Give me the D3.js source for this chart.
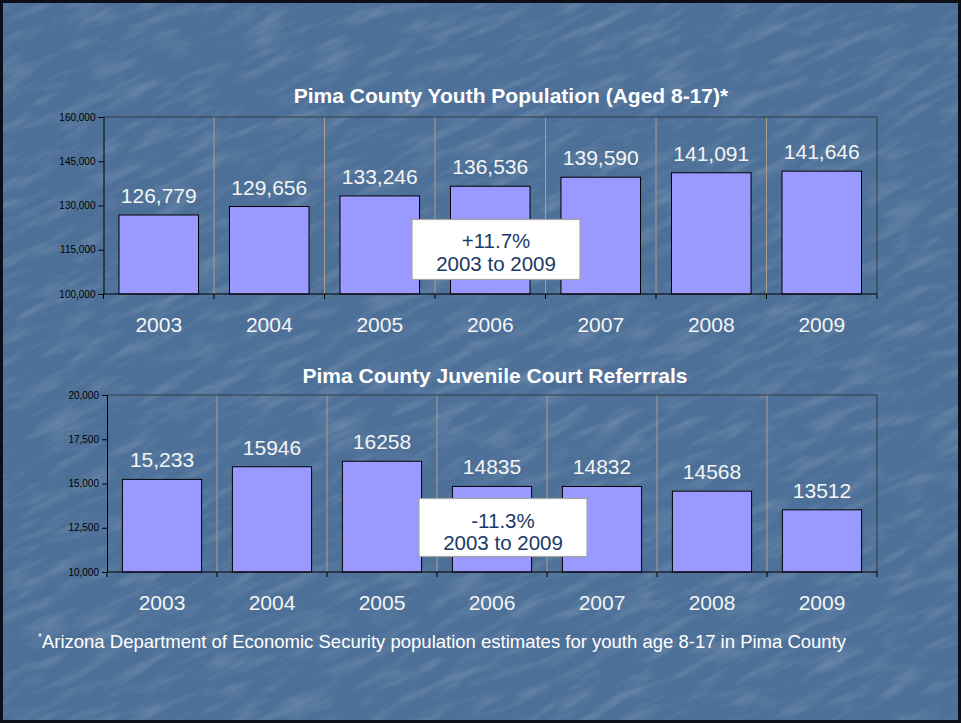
<!DOCTYPE html>
<html>
<head>
<meta charset="utf-8">
<script src="https://cdn.jsdelivr.net/npm/d3@7"></script>
<style>
  html, body { margin: 0; padding: 0; background: #000; }
  svg { display: block; font-family: Arial, "Liberation Sans", sans-serif; }
</style>
</head>
<body>
<svg id="slide" width="961" height="723"></svg>
<script>
// data
const years = ['2003', '2004', '2005', '2006', '2007', '2008', '2009'];

const youthPop    = [126779, 129656, 133246, 136536, 139590, 141091, 141646];
const youthLabels = ['126,779', '129,656', '133,246', '136,536', '139,590', '141,091', '141,646'];
const youthTicks  = [100000, 115000, 130000, 145000, 160000];

const courtRefs   = [15233, 15946, 16258, 14835, 14832, 14568, 13512];
const courtLabels = ['15,233', '15946', '16258', '14835', '14832', '14568', '13512'];
const courtTicks  = [10000, 12500, 15000, 17500, 20000];

const W = 961, H = 723;
const svg = d3.select('#slide');
const fmt = d3.format(',');

// -------- background (faint streaky texture) --------
const defs = svg.append('defs');
const f = defs.append('filter').attr('id', 'tex').attr('x', 0).attr('y', 0).attr('width', 1).attr('height', 1);
f.append('feTurbulence').attr('type', 'fractalNoise').attr('baseFrequency', '0.02 0.09')
  .attr('numOctaves', 3).attr('seed', 7).attr('result', 'n');
f.append('feColorMatrix').attr('type', 'matrix')
  .attr('values', '0 0 0 0 1  0 0 0 0 1  0 0 0 0 1  0 0 1.6 0 -0.72');

svg.append('rect').attr('width', W).attr('height', H).attr('fill', '#4d7098');
svg.append('g').attr('transform', 'rotate(-25 480 360)')
  .append('rect').attr('x', -250).attr('y', -250).attr('width', W + 500).attr('height', H + 500)
  .attr('filter', 'url(#tex)').attr('opacity', 0.2);
svg.append('rect').attr('x', 1.5).attr('y', 1.5).attr('width', W - 3).attr('height', H - 3)
  .attr('fill', 'none').attr('stroke', '#0b0f18').attr('stroke-width', 3);

// -------- one bar chart --------
function drawChart(c) {
  const g = svg.append('g');

  const x = d3.scaleBand().domain(years).range([c.x0, c.x1])
    .paddingInner(0.28).paddingOuter(0.14);
  const xb = d3.scaleBand().domain(years).range([c.x0, c.x1]); // category boundaries
  const y = d3.scaleLinear().domain(d3.extent(c.ticks)).range([c.y1, c.y0]);

  // title
  g.append('text').attr('x', c.titleX).attr('y', c.titleY)
    .attr('text-anchor', 'middle').attr('fill', '#ffffff')
    .attr('font-size', 21).attr('font-weight', 'bold').text(c.title);

  // vertical separators between categories
  g.append('g').selectAll('line').data(years.slice(1)).join('line')
    .attr('x1', d => xb(d)).attr('x2', d => xb(d))
    .attr('y1', c.y0).attr('y2', c.y1)
    .attr('stroke', '#a99f8a').attr('stroke-width', 1);

  // plot frame top + right
  g.append('path')
    .attr('d', `M${c.x0},${c.y0}H${c.x1}V${c.y1}`)
    .attr('fill', 'none').attr('stroke', '#333a44').attr('stroke-width', 1);

  // bars
  g.append('g').selectAll('rect').data(c.values).join('rect')
    .attr('x', (d, i) => x(years[i]))
    .attr('y', d => y(d))
    .attr('width', x.bandwidth())
    .attr('height', d => y.range()[0] - y(d))
    .attr('fill', '#9999ff').attr('stroke', '#000').attr('stroke-width', 1);

  // value labels
  g.append('g').selectAll('text').data(c.values).join('text')
    .attr('x', (d, i) => x(years[i]) + x.bandwidth() / 2)
    .attr('y', d => y(d) - 12)
    .attr('text-anchor', 'middle').attr('fill', '#f4f4f4')
    .attr('font-size', 21)
    .text((d, i) => c.labels[i]);

  // y axis
  const ya = g.append('g').attr('transform', `translate(${c.x0},0)`)
    .call(d3.axisLeft(y).tickValues(c.ticks).tickFormat(fmt).tickSize(5).tickPadding(3));
  ya.select('.domain').attr('stroke', '#000');
  ya.selectAll('.tick line').attr('stroke', '#000');
  ya.selectAll('.tick text').attr('fill', '#000').attr('font-size', 10)
    .attr('font-family', 'Arial, "Liberation Sans", sans-serif');

  // x axis: line + ticks at category boundaries
  const bounds = years.map(d => xb(d)).concat([c.x1]);
  g.append('line').attr('x1', c.x0).attr('x2', c.x1).attr('y1', c.y1).attr('y2', c.y1)
    .attr('stroke', '#000').attr('stroke-width', 1.2);
  g.append('g').selectAll('line').data(bounds).join('line')
    .attr('x1', d => d).attr('x2', d => d).attr('y1', c.y1).attr('y2', c.y1 + 5)
    .attr('stroke', '#000');
  g.append('g').selectAll('text').data(years).join('text')
    .attr('x', d => xb(d) + xb.bandwidth() / 2)
    .attr('y', c.y1 + c.yearDy)
    .attr('text-anchor', 'middle').attr('fill', '#f4f4f4').attr('font-size', 21)
    .text(d => d);

  // change callout
  const b = c.box;
  g.append('rect').attr('x', b.x).attr('y', b.y).attr('width', b.w).attr('height', b.h)
    .attr('fill', '#ffffff').attr('stroke', '#a6a6a6').attr('stroke-width', 1.2);
  g.append('text').attr('x', b.x + b.w / 2).attr('y', b.y + b.l1)
    .attr('text-anchor', 'middle').attr('fill', '#1b3a66').attr('font-size', 20.5).text(b.t1);
  g.append('text').attr('x', b.x + b.w / 2).attr('y', b.y + b.l2)
    .attr('text-anchor', 'middle').attr('fill', '#1b3a66').attr('font-size', 20.5).text(b.t2);
}

drawChart({
  title: 'Pima County Youth Population (Aged 8-17)*', titleX: 511, titleY: 103,
  x0: 103.5, x1: 877, y0: 117, y1: 294,
  values: youthPop, labels: youthLabels, ticks: youthTicks, yearDy: 38,
  box: { x: 412, y: 219.5, w: 168, h: 60, t1: '+11.7%', t2: '2003 to 2009', l1: 28, l2: 51 }
});

drawChart({
  title: 'Pima County Juvenile Court Referrrals', titleX: 495, titleY: 383,
  x0: 107, x1: 877, y0: 395, y1: 572,
  values: courtRefs, labels: courtLabels, ticks: courtTicks, yearDy: 38,
  box: { x: 419, y: 498.5, w: 168, h: 58, t1: '-11.3%', t2: '2003 to 2009', l1: 29.5, l2: 51 }
});

// footnote
const fn = svg.append('text').attr('x', 38).attr('y', 648).attr('fill', '#ffffff').attr('font-size', 18.5);
fn.append('tspan').attr('font-size', 10).attr('dy', -7).text('*');
fn.append('tspan').attr('dy', 7).text('Arizona Department of Economic Security population estimates for youth age 8-17 in Pima County');
</script>
</body>
</html>
